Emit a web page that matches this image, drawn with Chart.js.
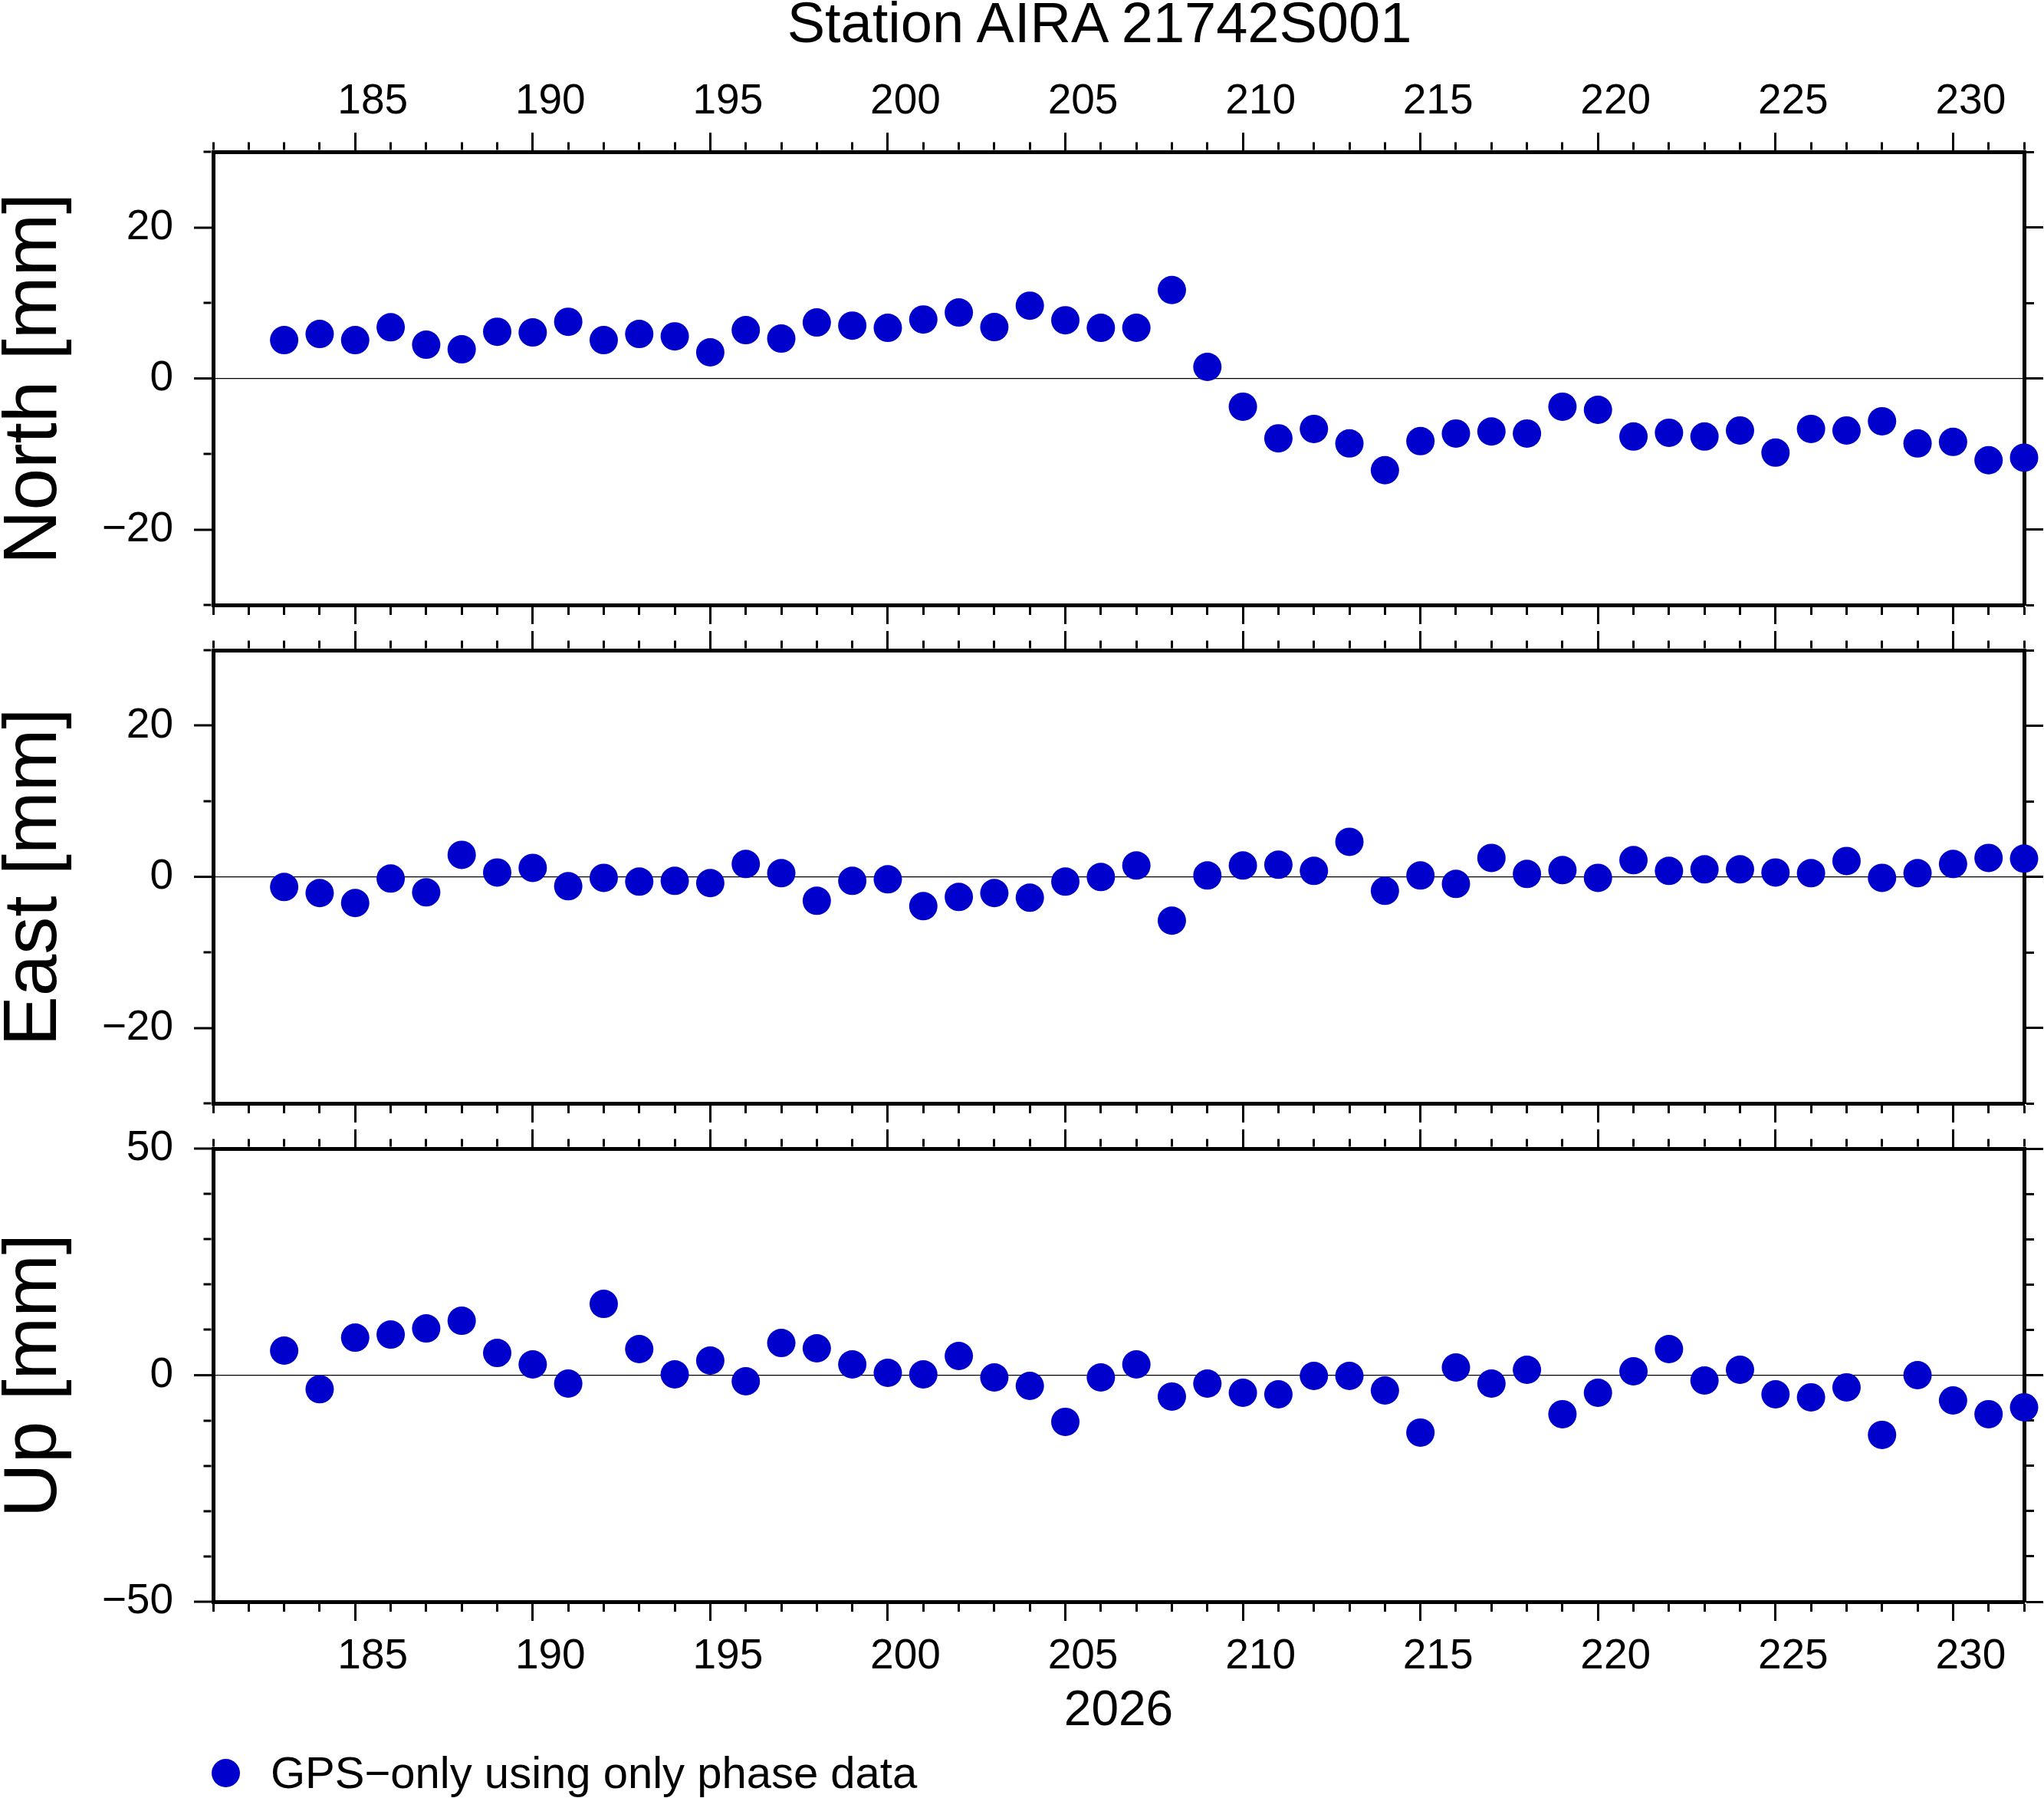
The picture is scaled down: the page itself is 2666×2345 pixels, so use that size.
<!DOCTYPE html>
<html>
<head>
<meta charset="utf-8">
<script src="https://cdn.jsdelivr.net/npm/chart.js@4.4.1/dist/chart.umd.min.js"></script>
<style>
html, body { margin: 0; padding: 0; background: #fff; }
#page { position: relative; width: 2666px; height: 2345px; overflow: hidden; background: #fff;
  font-family: 'Liberation Sans', Arial, Helvetica, sans-serif; color: #000; }
canvas { position: absolute; left: 0; }
.txt { position: absolute; white-space: nowrap; }
.ytitle { position: absolute; width: 700px; height: 98px; line-height: 98px; font-size: 98px;
  text-align: center; white-space: nowrap; transform: translate(-50%, -50%) rotate(-90deg); }
</style>
</head>
<body>
<div id="page">
  <div class="txt" style="left:1434px; top:-7px; font-size:74px; line-height:74px; transform:translateX(-50%);">Station AIRA 21742S001</div>
  <div class="ytitle" style="left:39px; top:493.5px;">North [mm]</div>
  <div class="ytitle" style="left:39px; top:1143.5px;">East [mm]</div>
  <div class="ytitle" style="left:39px; top:1793.5px;">Up [mm]</div>
  <canvas id="cN" width="2666" height="859" style="top:0px;"></canvas>
  <canvas id="cE" width="2666" height="731" style="top:778px;"></canvas>
  <canvas id="cU" width="2666" height="917" style="top:1428px;"></canvas>
  <div class="txt" style="left:1459px; top:2196px; font-size:64px; line-height:64px; transform:translateX(-50%);">2026</div>
  <div style="position:absolute; left:276px; top:2294px; width:37px; height:37px; border-radius:50%; background:rgb(0,0,205);"></div>
  <div class="txt" style="left:353px; top:2283px; font-size:58px; line-height:58px;">GPS−only using only phase data</div>
</div>
<script>
// ---- data (day of year 2026) ----
const days = [183,184,185,186,187,188,189,190,191,192,193,194,195,196,197,198,199,200,201,202,
              203,204,205,206,207,208,209,210,211,212,213,214,215,216,217,218,219,220,221,222,
              223,224,225,226,227,228,229,230,231,232];
const north = [5.07,5.88,5.07,6.77,4.46,3.85,6.18,6.08,7.5,5.07,
               5.88,5.57,3.45,6.39,5.27,7.4,6.99,6.69,7.8,8.72,
               6.79,9.63,7.7,6.69,6.7,11.7,1.52,-3.75,-7.94,-6.69,
               -8.61,-12.16,-8.31,-7.3,-7.03,-7.3,-3.75,-4.16,-7.7,-7.2,
               -7.7,-6.9,-9.83,-6.69,-6.9,-5.68,-8.61,-8.41,-10.84,-10.5];
const east = [-1.35,-2.16,-3.48,-0.24,-2.06,2.9,0.57,1.18,-1.25,-0.14,
              -0.64,-0.54,-0.84,1.69,0.47,-3.18,-0.54,-0.34,-3.89,-2.67,
              -2.16,-2.77,-0.64,-0.03,1.49,-5.81,0.17,1.49,1.59,0.78,
              4.63,-1.86,0.17,-0.95,2.5,0.37,0.88,-0.14,2.2,0.78,
              0.98,0.98,0.57,0.47,2.09,-0.14,0.47,1.69,2.5,2.4];
const up = [5.41,-3.1,8.28,8.96,10.31,12.0,4.9,2.37,-1.86,15.72,
            5.75,0.17,3.21,-1.35,7.1,5.92,2.37,0.51,0.17,4.23,
            -0.51,-2.37,-10.31,-0.51,2.37,-4.73,-1.86,-3.89,-4.23,-0.17,
            -0.17,-3.38,-12.68,1.69,-1.86,1.18,-8.62,-3.89,0.85,5.75,
            -1.18,1.18,-4.23,-4.9,-2.7,-13.18,0,-5.58,-8.62,-7.1];

// ---- tick labels ----
const xTickValues = [185,190,195,200,205,210,215,220,225,230];
const xTickLabels = ['185','190','195','200','205','210','215','220','225','230'];
const neTickValues = [-20,0,20];
const neTickLabels = ['−20','0','20'];
const upTickValues = [-50,0,50];
const upTickLabels = ['−50','0','50'];

const BLUE = 'rgb(0,0,205)';
Chart.defaults.font.family = "'Liberation Sans', Arial, Helvetica, sans-serif";
Chart.defaults.font.size = 55;
Chart.defaults.color = '#000';

function panel(id, values, yMin, yMax, yMajVals, yMajLabels, topH, bottomH, topLabels, bottomLabels) {
  const isMajX = v => xTickValues.includes(v);
  const isMajY = v => yMajVals.includes(v);
  const val = ctx => (ctx && ctx.tick) ? ctx.tick.value : NaN;
  // ticks drawn from their tip toward the frame (top / left)
  const outerDash = isMaj => ctx => isMaj(val(ctx)) ? [] : [10, 12.5];
  const outerOff = isMaj => ctx => isMaj(val(ctx)) ? 0 : 10;
  // ticks drawn from the frame outward (bottom / right)
  const innerDash = isMaj => ctx => isMaj(val(ctx)) ? [] : [10, 100];
  const border = { display: true, width: 5, color: '#000' };
  const xLab = show => v => {
    if (!show) return '';
    const i = xTickValues.indexOf(v);
    return i >= 0 ? xTickLabels[i] : '';
  };
  const yLab = v => {
    const i = yMajVals.indexOf(v);
    return i >= 0 ? yMajLabels[i] : '';
  };
  const xCommon = (show, pad) => ({
    type: 'linear', min: 181, max: 232,
    ticks: { stepSize: 1, autoSkip: false, maxRotation: 0, minRotation: 0, padding: pad,
             labelOffset: 23, font: { size: 55 }, callback: xLab(show) },
    border: border
  });
  new Chart(document.getElementById(id), {
    type: 'scatter',
    data: { datasets: [{
      data: days.map((d, i) => ({ x: d, y: values[i] })),
      backgroundColor: BLUE, borderColor: BLUE, borderWidth: 0,
      pointRadius: 18.5, pointHoverRadius: 18.5, pointBorderWidth: 0,
      showLine: false, clip: false
    }] },
    options: {
      responsive: false, animation: false, events: [],
      layout: { padding: 0 },
      plugins: { legend: { display: false }, tooltip: { enabled: false } },
      scales: {
        x: Object.assign(xCommon(bottomLabels, 14), {
          position: 'bottom',
          grid: { drawOnChartArea: false, drawTicks: true, tickLength: 25, tickWidth: 3,
                  tickColor: '#000', tickBorderDash: innerDash(isMajX) },
          afterFit: s => { s.height = bottomH; }
        }),
        x2: Object.assign(xCommon(topLabels, 7), {
          position: 'top',
          grid: { drawOnChartArea: false, drawTicks: true, tickLength: 25, tickWidth: 3,
                  tickColor: '#000', tickBorderDash: outerDash(isMajX),
                  tickBorderDashOffset: outerOff(isMajX) },
          afterFit: s => { s.height = topH; }
        }),
        y: {
          type: 'linear', position: 'left', min: yMin, max: yMax,
          ticks: { stepSize: 10, autoSkip: false, padding: 27, font: { size: 55 }, callback: yLab },
          grid: { drawOnChartArea: true, drawTicks: true, tickLength: 25, tickWidth: 3, tickColor: '#000',
                  color: ctx => val(ctx) === 0 ? '#000' : 'rgba(0,0,0,0)',
                  lineWidth: ctx => val(ctx) === 0 ? 1.2 : 0,
                  tickBorderDash: outerDash(isMajY), tickBorderDashOffset: outerOff(isMajY) },
          border: border,
          afterFit: s => { s.width = 278; }
        },
        y2: {
          type: 'linear', position: 'right', min: yMin, max: yMax,
          ticks: { stepSize: 10, autoSkip: false, padding: 0, callback: () => '' },
          grid: { drawOnChartArea: false, drawTicks: true, tickLength: 25, tickWidth: 3, tickColor: '#000',
                  tickBorderDash: innerDash(isMajY) },
          border: border,
          afterFit: s => { s.width = 26; }
        }
      }
    }
  });
}

panel('cN', north, -30, 30, neTickValues, neTickLabels, 198, 70, true, false);
panel('cE', east, -30, 30, neTickValues, neTickLabels, 70, 70, false, false);
panel('cU', up, -50, 50, upTickValues, upTickLabels, 70, 256, false, true);
</script>
</body>
</html>
